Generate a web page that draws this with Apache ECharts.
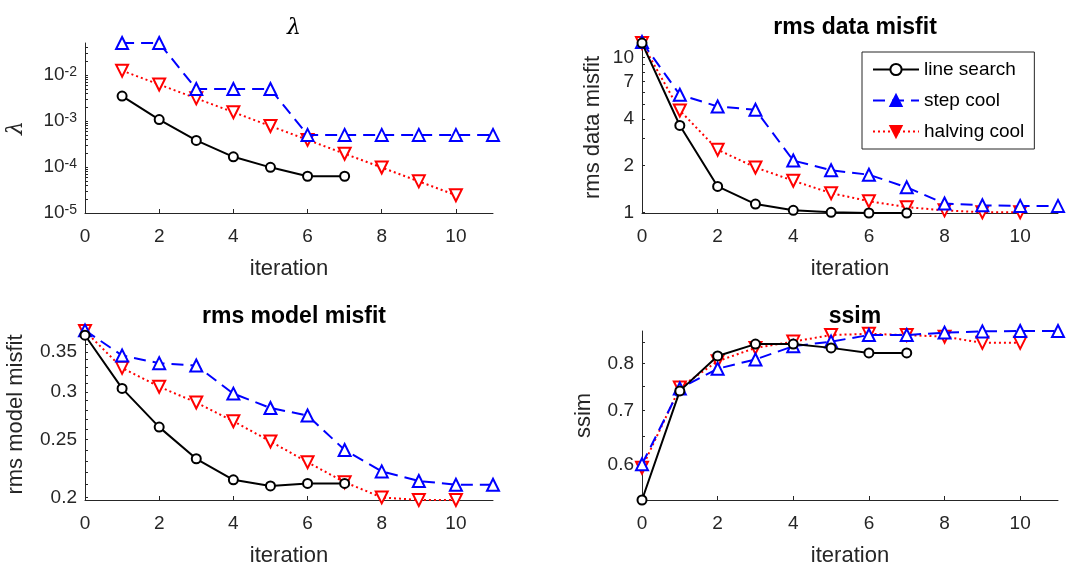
<!DOCTYPE html>
<html>
<head>
<meta charset="utf-8">
<script src="https://cdn.jsdelivr.net/npm/echarts@6/dist/echarts.min.js"></script>
<style>html,body{margin:0;padding:0;background:#fff;}#c{width:1072px;height:568px;}</style>
</head>
<body>
<div id="c"></div>
<script>
// ---- data (index = iteration; null = no point) ----
const iterations = [0,1,2,3,4,5,6,7,8,9,10,11];
const seriesNames = ['line search', 'step cool', 'halving cool'];

const lambdaLineSearch = [null, 0.0035, 0.00108, 0.00038, 0.000167, 0.0000985, 0.000063, 0.000063];
const lambdaStepCool   = [null, 0.05, 0.05, 0.005, 0.005, 0.005, 0.0005, 0.0005, 0.0005, 0.0005, 0.0005, 0.0005];
const lambdaHalving    = [null, 0.0125, 0.00625, 0.003125, 0.0015625, 0.00078, 0.00039, 0.000195, 0.0000977, 0.0000488, 0.0000244];

const dataLineSearch = [12.4, 3.64, 1.47, 1.13, 1.03, 1.0, 0.99, 0.99];
const dataStepCool   = [12.6, 5.75, 4.83, 4.6, 2.16, 1.87, 1.75, 1.45, 1.14, 1.11, 1.10, 1.10];
const dataHalving    = [12.4, 4.55, 2.54, 1.95, 1.60, 1.33, 1.18, 1.08, 1.03, 1.0, 1.0];

const modelLineSearch = [0.373, 0.304, 0.262, 0.232, 0.214, 0.209, 0.211, 0.211];
const modelStepCool   = [0.380, 0.345, 0.335, 0.332, 0.298, 0.282, 0.274, 0.240, 0.221, 0.213, 0.210, 0.210];
const modelHalving    = [0.379, 0.329, 0.306, 0.288, 0.268, 0.248, 0.229, 0.212, 0.200, 0.198, 0.198];

const ssimLineSearch = [0.543, 0.740, 0.817, 0.845, 0.845, 0.836, 0.824, 0.824];
const ssimStepCool   = [0.601, 0.745, 0.788, 0.809, 0.840, 0.851, 0.867, 0.867, 0.873, 0.876, 0.877, 0.877];
const ssimHalving    = [0.595, 0.747, 0.805, 0.836, 0.851, 0.867, 0.870, 0.867, 0.863, 0.848, 0.848];

// ---- ticks ----
const xTicks = [0, 2, 4, 6, 8, 10];
const lambdaTicks = [1e-5, 1e-4, 1e-3, 1e-2];
const lambdaMinor = [2e-5,3e-5,4e-5,5e-5,6e-5,7e-5,8e-5,9e-5,2e-4,3e-4,4e-4,5e-4,6e-4,7e-4,8e-4,9e-4,2e-3,3e-3,4e-3,5e-3,6e-3,7e-3,8e-3,9e-3,2e-2,3e-2,4e-2];
const dataTicks = [1, 2, 4, 7, 10];
const dataMinor = [3, 5, 6, 8, 9];
const modelTicks = [0.2, 0.25, 0.3, 0.35];
const modelMinor = [0.21,0.22,0.23,0.24,0.26,0.27,0.28,0.29,0.31,0.32,0.33,0.34,0.36,0.37,0.38];
const ssimTicks = [0.6, 0.7, 0.8];
const ssimMinor = [0.55, 0.65, 0.75, 0.85];

const titles = ['λ', 'rms data misfit', 'rms model misfit', 'ssim'];
const yNames = ['λ', 'rms data misfit', 'rms model misfit', 'ssim'];

// ---- layout ----
const FONT = 'Liberation Sans';
const TXT = '#262626';
const grids = [
  {left: 85, top: 43, width: 408, height: 170},
  {left: 642, top: 42, width: 416, height: 171},
  {left: 85, top: 329, width: 408, height: 173},
  {left: 642, top: 331, width: 416, height: 171}
];
const yRanges = [[1e-5, 0.05], [0.99, 12.6], [0.198, 0.382], [0.543, 0.877]];
const yTickSets = [lambdaTicks, dataTicks, modelTicks, ssimTicks];
const yMinorSets = [lambdaMinor, dataMinor, modelMinor, ssimMinor];
const yNameGaps = [58, 38, 58, 47];

function pairs(arr) {
  const out = [];
  arr.forEach((v, i) => { if (v !== null) out.push([iterations[i], v]); });
  return out;
}

const styles = [
  {color: '#000000', type: 'solid', symbol: 'circle', size: 9, rotate: 0},
  {color: '#0000ff', type: [12, 7], symbol: 'triangle', size: 12, rotate: 0},
  {color: '#ff0000', type: [2, 3], symbol: 'triangle', size: 12, rotate: 180}
];

const panels = [
  [lambdaLineSearch, lambdaStepCool, lambdaHalving],
  [dataLineSearch, dataStepCool, dataHalving],
  [modelLineSearch, modelStepCool, modelHalving],
  [ssimLineSearch, ssimStepCool, ssimHalving]
];

const xAxes = [], yAxes = [], series = [], titleArr = [];
grids.forEach((g, k) => {
  xAxes.push({
    type: 'value', gridIndex: k, min: 0, max: 11,
    name: 'iteration', nameLocation: 'middle', nameGap: 45,
    nameTextStyle: {fontFamily: FONT, fontSize: 22, color: TXT},
    axisLine: {show: true, lineStyle: {color: TXT, width: 1}},
    axisTick: {show: true, inside: true, length: 4, customValues: xTicks, lineStyle: {color: TXT}},
    axisLabel: {customValues: xTicks, fontFamily: FONT, fontSize: 19, color: TXT, margin: 14},
    splitLine: {show: false}
  });
  const ticks = yTickSets[k];
  const allTicks = ticks.concat(yMinorSets[k]);
  yAxes.push({
    type: 'log', logBase: 10, gridIndex: k, min: yRanges[k][0], max: yRanges[k][1],
    name: yNames[k], nameLocation: 'middle', nameGap: yNameGaps[k], nameRotate: 90,
    nameTextStyle: {fontFamily: k === 0 ? 'DejaVu Serif' : FONT, fontStyle: k === 0 ? 'italic' : 'normal', fontSize: 22, color: TXT},
    axisLine: {show: true, lineStyle: {color: TXT, width: 1}},
    axisTick: {show: true, inside: true, length: 3, customValues: allTicks, lineStyle: {color: TXT}},
    axisLabel: {
      customValues: ticks, fontFamily: FONT, fontSize: 19, color: TXT, margin: 8,
      formatter: k === 0
        ? (v) => '{b|10}{s|' + Math.round(Math.log10(v)) + '}'
        : (v) => String(+(+v).toPrecision(3)),
      rich: {
        b: {fontFamily: FONT, fontSize: 19, color: TXT},
        s: {fontFamily: FONT, fontSize: 14, color: TXT, verticalAlign: 'top', padding: [0, 0, 6, 0]}
      }
    },
    splitLine: {show: false}
  });
  panels[k].forEach((arr, j) => {
    const st = styles[j];
    series.push({
      name: seriesNames[j], type: 'line', xAxisIndex: k, yAxisIndex: k,
      data: pairs(arr),
      symbol: st.symbol, symbolSize: st.size, symbolRotate: st.rotate,
      showAllSymbol: true,
      lineStyle: {color: st.color, width: 2, type: st.type},
      itemStyle: {color: '#ffffff', borderColor: st.color, borderWidth: 2},
      z: 3 - j,
      animation: false
    });
  });
});

titleArr.push(
  {text: titles[0], left: 289, top: 12, textAlign: 'center', textStyle: {fontFamily: 'DejaVu Serif', fontStyle: 'italic', fontWeight: 'normal', fontSize: 22, color: '#000'}},
  {text: titles[1], left: 850, top: 11, textAlign: 'center', textStyle: {fontFamily: FONT, fontWeight: 'bold', fontSize: 23, color: '#000'}},
  {text: titles[2], left: 289, top: 300, textAlign: 'center', textStyle: {fontFamily: FONT, fontWeight: 'bold', fontSize: 23, color: '#000'}},
  {text: titles[3], left: 850, top: 300, textAlign: 'center', textStyle: {fontFamily: FONT, fontWeight: 'bold', fontSize: 23, color: '#000'}}
);

const chart = echarts.init(document.getElementById('c'), null, {renderer: 'canvas'});
chart.setOption({
  animation: false,
  backgroundColor: '#ffffff',
  title: titleArr,
  grid: grids,
  xAxis: xAxes,
  yAxis: yAxes,
  legend: {
    orient: 'vertical', left: 862, top: 52,
    backgroundColor: '#ffffff', borderColor: '#262626', borderWidth: 1,
    padding: [8, 10, 8, 10], itemWidth: 46, itemHeight: 14, itemGap: 12,
    textStyle: {fontFamily: FONT, fontSize: 19, color: '#000'},
    data: [
      {name: seriesNames[0]},
      {name: seriesNames[1], itemStyle: {color: '#0000ff'}},
      {name: seriesNames[2], itemStyle: {color: '#ff0000'}}
    ]
  },
  series: series
});
</script>
</body>
</html>
